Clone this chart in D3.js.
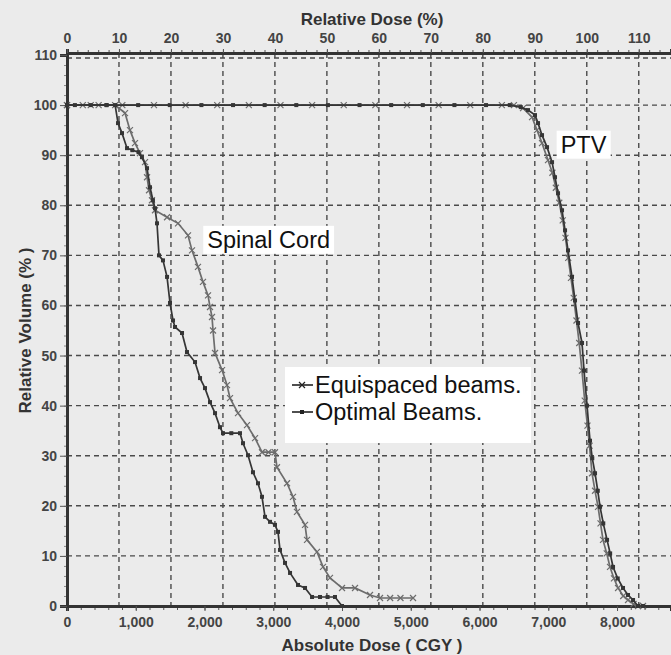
<!DOCTYPE html>
<html>
<head>
<meta charset="utf-8">
<script src="https://cdn.jsdelivr.net/npm/d3@7"></script>
<style>
  body { margin: 0; background: #ebebeb; }
  svg { display: block; font-family: 'Liberation Sans', Arial, sans-serif; }
</style>
</head>
<body>
<div class="dvh"></div>
<script>
// dose in cGy, volume in %
const prescription = 7560;
const seriesNames = ['Equispaced beams.', 'Optimal Beams.'];

const cordEquispaced = [
  [0, 100], [230, 100], [460, 100], [700, 100], [844, 98.4], [916, 95], [989, 92.4], [1062, 90.4],
  [1135, 88.6], [1164, 85.6], [1193, 83], [1236, 81], [1280, 79], [1455, 77.6], [1615, 76.4],
  [1760, 74], [1818, 71], [1905, 67.7], [1978, 64.7], [2051, 62], [2080, 59.7], [2109, 57.7],
  [2124, 55], [2153, 50.5], [2255, 47.1], [2327, 44.1], [2371, 41.5], [2487, 38.5], [2618, 36.1],
  [2735, 33.5], [2836, 30.7], [2930, 30.7], [3025, 30.7], [3054, 27.7], [3200, 24.5], [3287, 21.8],
  [3345, 18.8], [3462, 16.2], [3491, 13.2], [3636, 10.8], [3724, 7.8], [3825, 5.6], [4000, 3.6],
  [4189, 3.6], [4407, 2.2], [4553, 1.6], [4700, 1.6], [4850, 1.6], [5033, 1.6]
];

const cordOptimal = [
  [0, 100], [115, 100], [345, 100], [575, 100], [700, 100], [742, 96.4], [800, 94.4], [873, 91.4],
  [950, 91], [1040, 90.6], [1090, 89.6], [1164, 87.4], [1207, 83.6], [1250, 81], [1280, 79.4],
  [1309, 76.4], [1338, 70], [1396, 69], [1455, 65.7], [1498, 60.5], [1542, 57], [1571, 55.7],
  [1673, 54.5], [1745, 50.7], [1862, 48.7], [1935, 45.5], [2007, 43.5], [2080, 40.7], [2153, 38.5],
  [2225, 35.7], [2269, 34.5], [2390, 34.5], [2516, 34.5], [2560, 32.5], [2633, 30.1], [2705, 26.7],
  [2778, 24.5], [2836, 21.8], [2880, 17.8], [2953, 16.8], [3025, 16.2], [3069, 14.8], [3098, 11.2],
  [3171, 8.6], [3244, 6.6], [3360, 4.2], [3462, 3.6], [3564, 1.8], [3680, 1.8], [3790, 1.8],
  [3898, 1.8], [4000, 0]
];

const ptvEquispaced = [
  [0, 100], [345, 100], [805, 100], [1265, 100], [1725, 100], [2185, 100], [2645, 100], [3105, 100],
  [3565, 100], [4025, 100], [4485, 100], [4945, 100], [5405, 100], [5865, 100], [6325, 100],
  [6500, 100], [6633, 99.4], [6764, 97.6], [6836, 95], [6909, 92.4], [6996, 89], [7060, 86.5],
  [7110, 83.5], [7160, 80.5], [7210, 77], [7250, 73.5], [7290, 69.5], [7330, 65.5], [7370, 61.5],
  [7410, 57], [7450, 52.5], [7490, 47], [7530, 41], [7570, 36], [7600, 32], [7636, 26.5],
  [7680, 23], [7724, 19.8], [7760, 16.5], [7796, 13.2], [7850, 10.5], [7898, 7.8], [7955, 5.5],
  [8015, 3.6], [8090, 2], [8160, 1.2], [8240, 0.4], [8305, 0], [8378, 0]
];

const ptvOptimal = [
  [0, 100], [575, 100], [1035, 100], [1495, 100], [1955, 100], [2415, 100], [2875, 100], [3335, 100],
  [3795, 100], [4255, 100], [4715, 100], [5175, 100], [5635, 100], [6095, 100], [6440, 100],
  [6600, 99.6], [6705, 99], [6807, 98], [6851, 96.4], [6909, 94], [6982, 91.6], [7055, 88.6],
  [7098, 85.6], [7142, 82.4], [7200, 79], [7244, 75], [7287, 71], [7345, 65.7], [7389, 61],
  [7433, 56.5], [7491, 52.5], [7520, 47], [7564, 40], [7607, 33], [7640, 29.5], [7680, 26.5],
  [7720, 23], [7753, 19.8], [7800, 16.5], [7855, 13.2], [7900, 10.5], [7942, 7.8], [8010, 5.5],
  [8087, 3.6], [8160, 2.2], [8233, 1.2], [8305, 0], [8378, 0]
];

const doseTicks = [0, 1000, 2000, 3000, 4000, 5000, 6000, 7000, 8000];
const relTicks = [0, 10, 20, 30, 40, 50, 60, 70, 80, 90, 100, 110];
const volTicks = [0, 10, 20, 30, 40, 50, 60, 70, 80, 90, 100, 110];

const w = 671;
const h = 655;
const plot = { left: 67, top: 55, right: 671, bottom: 606 };

const svg = d3.select('.dvh')
  .append('svg')
  .attr('width', w)
  .attr('height', h);

svg.append('rect').attr('width', w).attr('height', h).attr('fill', '#ebebeb');

const x = d3.scaleLinear().domain([0, 8785]).range([plot.left, plot.right]);
const xRel = d3.scaleLinear().domain([0, 8785 / prescription * 100]).range([plot.left, plot.right]);
const y = d3.scaleLinear().domain([0, 110]).range([plot.bottom, plot.top]);

// grid
const grid = svg.append('g')
  .attr('stroke', '#4a4a4a')
  .attr('stroke-width', 1.4)
  .attr('stroke-dasharray', '5,4');

grid.selectAll('.vg')
  .data(relTicks.filter(d => d > 0))
  .enter()
  .append('line')
  .attr('x1', d => xRel(d)).attr('x2', d => xRel(d))
  .attr('y1', plot.top - 2).attr('y2', plot.bottom);

grid.selectAll('.hg')
  .data(volTicks.filter(d => d > 0))
  .enter()
  .append('line')
  .attr('x1', plot.left).attr('x2', plot.right)
  .attr('y1', d => y(d) + (d === 110 ? 3 : 0)).attr('y2', d => y(d) + (d === 110 ? 3 : 0));

// axes
const tickFont = g => g.selectAll('text')
  .attr('font-size', 14)
  .attr('font-weight', 'bold')
  .attr('fill', '#444');

svg.append('g')
  .attr('transform', `translate(0, ${plot.bottom})`)
  .call(d3.axisBottom(x).tickValues(d3.range(0, 8785, 200)).tickSize(4).tickFormat(''))
  .call(g => g.selectAll('line').attr('stroke', '#555'));
svg.append('g')
  .attr('transform', `translate(0, ${plot.bottom})`)
  .call(d3.axisBottom(x).tickValues(doseTicks).tickSize(5).tickPadding(6).tickFormat(d3.format(',')))
  .call(tickFont)
  .call(g => g.select('.domain').attr('stroke', '#333').attr('stroke-width', 3))
  .call(g => g.selectAll('line').attr('stroke', '#555'));

svg.append('g')
  .attr('transform', `translate(0, ${plot.top - 2})`)
  .call(d3.axisTop(xRel).tickValues(d3.range(0, 116, 2)).tickSize(3).tickFormat(''))
  .call(g => g.select('.domain').remove())
  .call(g => g.selectAll('line').attr('stroke', '#555'));
svg.append('g')
  .attr('transform', `translate(0, ${plot.top - 2})`)
  .call(d3.axisTop(xRel).tickValues(relTicks).tickSize(4).tickPadding(6))
  .call(tickFont)
  .call(g => g.select('.domain').attr('stroke', '#333').attr('stroke-width', 3))
  .call(g => g.selectAll('line').attr('stroke', '#555'));

svg.append('g')
  .attr('transform', `translate(${plot.left}, 0)`)
  .call(d3.axisLeft(y).tickValues(d3.range(0, 111, 2)).tickSize(3).tickFormat(''))
  .call(g => g.select('.domain').remove())
  .call(g => g.selectAll('line').attr('stroke', '#888'));
svg.append('g')
  .attr('transform', `translate(${plot.left}, 0)`)
  .call(d3.axisLeft(y).tickValues(volTicks).tickSize(7).tickPadding(3))
  .call(tickFont)
  .call(g => g.select('.domain').attr('stroke', '#333').attr('stroke-width', 3))
  .call(g => g.selectAll('line').attr('stroke', '#555'));

// axis titles
svg.append('text')
  .attr('x', 372).attr('y', 25)
  .attr('text-anchor', 'middle')
  .attr('font-size', 17).attr('font-weight', 'bold').attr('fill', '#333')
  .text('Relative Dose (%)');

svg.append('text')
  .attr('x', 372).attr('y', 651)
  .attr('text-anchor', 'middle')
  .attr('font-size', 17).attr('font-weight', 'bold').attr('fill', '#333')
  .text('Absolute Dose ( CGY )');

svg.append('text')
  .attr('transform', `translate(31, ${y(55)}) rotate(-90)`)
  .attr('text-anchor', 'middle')
  .attr('font-size', 17).attr('font-weight', 'bold').attr('fill', '#333')
  .text('Relative Volume (% )');

// curves
const line = d3.line().x(d => x(d[0])).y(d => y(d[1]));
const styles = [
  { color: '#6c6c6c', marker: 'x' },
  { color: '#353535', marker: 'dot' }
];
const curves = [
  { data: cordEquispaced, s: 0 },
  { data: ptvEquispaced, s: 0 },
  { data: cordOptimal, s: 1 },
  { data: ptvOptimal, s: 1 }
];

function drawMarker(g, kind, color) {
  if (kind === 'x') {
    g.append('path')
      .attr('d', 'M-3,-3L3,3M-3,3L3,-3')
      .attr('stroke', color).attr('stroke-width', 1.2).attr('fill', 'none');
  } else {
    g.append('rect')
      .attr('x', -2).attr('y', -2).attr('width', 4).attr('height', 4)
      .attr('fill', color);
  }
}

curves.forEach(c => {
  const st = styles[c.s];
  svg.append('path')
    .datum(c.data)
    .attr('d', line)
    .attr('fill', 'none')
    .attr('stroke', st.color)
    .attr('stroke-width', 1.7);
  svg.append('g').selectAll('g')
    .data(c.data)
    .enter()
    .append('g')
    .attr('transform', d => `translate(${x(d[0])}, ${y(d[1])})`)
    .each(function () { drawMarker(d3.select(this), st.marker, st.color); });
});

// labels
function boxLabel(text, bx, by, size) {
  const g = svg.append('g');
  const t = g.append('text')
    .attr('x', bx).attr('y', by)
    .attr('font-size', size).attr('fill', '#111')
    .text(text);
  const bb = t.node().getBBox();
  g.insert('rect', 'text')
    .attr('x', bb.x - 4).attr('y', bb.y - 1)
    .attr('width', bb.width + 8).attr('height', bb.height + 2)
    .attr('fill', '#fff');
}
boxLabel('Spinal Cord', x(2040), y(71.5), 23.5);
boxLabel('PTV', x(7180), y(90.5), 23.5);

// legend
const legend = svg.append('g');
legend.append('rect')
  .attr('x', 285).attr('y', 367).attr('width', 246).attr('height', 76)
  .attr('fill', '#fff');
seriesNames.forEach((name, i) => {
  const ly = 385 + i * 27;
  const st = styles[i];
  legend.append('line')
    .attr('x1', 292).attr('x2', 313).attr('y1', ly).attr('y2', ly)
    .attr('stroke', '#222').attr('stroke-width', 1.6);
  const m = legend.append('g').attr('transform', `translate(302, ${ly})`);
  drawMarker(m, st.marker, '#222');
  legend.append('text')
    .attr('x', 315).attr('y', ly + 8)
    .attr('font-size', 23.5).attr('fill', '#111')
    .text(name);
});
</script>
</body>
</html>
